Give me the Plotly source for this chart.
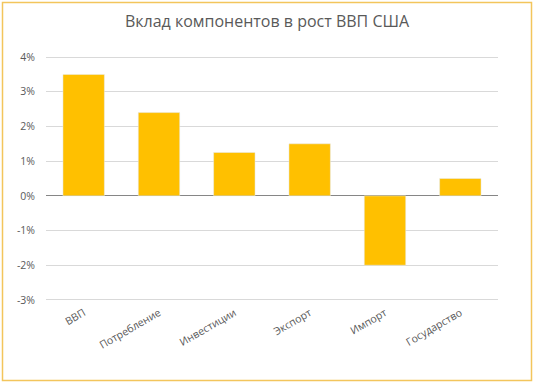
import plotly.graph_objects as go

categories = ["ВВП", "Потребление", "Инвестиции", "Экспорт", "Импорт", "Государство"]
values = [3.5, 2.4, 1.25, 1.5, -2.0, 0.5]
y_ticks = [-3, -2, -1, 0, 1, 2, 3, 4]
y_tick_labels = ["-3%", "-2%", "-1%", "0%", "1%", "2%", "3%", "4%"]
title_text = "Вклад компонентов в рост ВВП США"

W, H = 534, 383
pad = 0.06
unit = 243 / 7.0
ml, mr = 46, 36
mt = round(57 - pad * unit)
mb = round(83 - pad * unit)
pw, ph = W - ml - mr, H - mt - mb

fig = go.Figure(go.Bar(x=categories, y=values, marker_color="#FFC000", width=0.55))

fig.update_layout(
    width=W, height=H,
    margin=dict(l=ml, r=mr, t=mt, b=mb),
    paper_bgcolor="white", plot_bgcolor="white",
    font=dict(family="Open Sans, Noto Sans, sans-serif", color="#595959", size=10),
    title=dict(text=title_text, x=0.5, xanchor="center", y=1 - 21 / H, yanchor="middle",
               font=dict(size=16, color="#595959")),
    showlegend=False,
)
fig.update_xaxes(showgrid=False, showline=False, tickangle=-30, ticks="",
                 tickfont=dict(size=10.5, color="#595959"), ticklabelstandoff=2)
fig.update_yaxes(range=[-3 - pad, 4 + pad], tickvals=y_ticks, ticktext=y_tick_labels, showgrid=True,
                 gridcolor="#D9D9D9", gridwidth=1, zeroline=True, zerolinecolor="#868686",
                 zerolinewidth=1, ticks="", tickfont=dict(size=10.5, color="#595959"),
                 showline=False, ticklabelstandoff=10)

# chart border
fig.add_shape(type="rect", xref="paper", yref="paper",
              x0=(2.5 - ml) / pw, x1=(W - 2.5 - ml) / pw,
              y0=-(mb - 2.5) / ph, y1=1 + (mt - 2.5) / ph,
              line=dict(color="#F3C55C", width=1.5), fillcolor="rgba(0,0,0,0)", layer="below")

fig.write_html("out.html", config={"displayModeBar": False},
               post_script="document.body.style.margin='0';document.body.style.overflow='hidden';")
